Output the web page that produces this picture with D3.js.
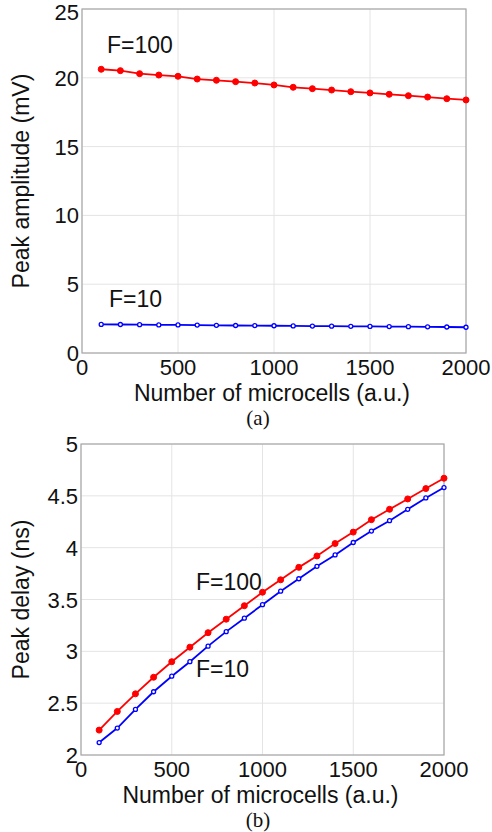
<!DOCTYPE html>
<meta charset="utf-8">
<script src="https://d3js.org/d3.v7.min.js"></script>
<style>
  body { margin: 0; background: #fff; }
  text { font-family: "Liberation Sans", Arial, sans-serif; fill: #111; }
  .cap { font-family: "Liberation Serif", "Times New Roman", serif; }
</style>
<body>
<div id="my_dataviz"></div>
<script>
// data
var microcells = [100, 200, 300, 400, 500, 600, 700, 800, 900, 1000,
                  1100, 1200, 1300, 1400, 1500, 1600, 1700, 1800, 1900, 2000];

// (a) peak amplitude (mV)
var ampF100 = [20.62, 20.52, 20.30, 20.20, 20.11, 19.91, 19.82, 19.72, 19.62, 19.48,
               19.31, 19.21, 19.11, 18.99, 18.90, 18.80, 18.70, 18.60, 18.48, 18.39];
var ampF10  = [2.08, 2.07, 2.06, 2.04, 2.04, 2.03, 2.01, 2.00, 1.99, 1.98,
               1.97, 1.96, 1.95, 1.94, 1.93, 1.92, 1.91, 1.90, 1.89, 1.87];

// (b) peak delay (ns)
var delayF100 = [2.24, 2.42, 2.59, 2.75, 2.90, 3.04, 3.18, 3.31, 3.44, 3.57,
                 3.69, 3.81, 3.92, 4.04, 4.15, 4.27, 4.37, 4.47, 4.57, 4.67];
var delayF10  = [2.12, 2.26, 2.44, 2.61, 2.76, 2.90, 3.05, 3.19, 3.32, 3.45,
                 3.58, 3.70, 3.82, 3.93, 4.05, 4.16, 4.26, 4.37, 4.48, 4.58];

var xTicks = [0, 500, 1000, 1500, 2000];
var ampTicks = [0, 5, 10, 15, 20, 25];
var delayTicks = [2, 2.5, 3, 3.5, 4, 4.5, 5];

var W = 492, H = 832;
var svg = d3.select("#my_dataviz").append("svg")
  .attr("width", W).attr("height", H);

function panel(opt) {
  var x = d3.scaleLinear().domain([0, 2000]).range([opt.left, opt.right]);
  var y = d3.scaleLinear().domain(opt.yDomain).range([opt.bottom, opt.top]);
  var g = svg.append("g");

  // grid
  g.selectAll(".gx").data(xTicks).enter().append("line")
    .attr("x1", d => x(d)).attr("x2", d => x(d))
    .attr("y1", opt.top).attr("y2", opt.bottom)
    .attr("stroke", "#e4e4e4").attr("stroke-width", 1);
  g.selectAll(".gy").data(opt.yTicks).enter().append("line")
    .attr("x1", opt.left).attr("x2", opt.right)
    .attr("y1", d => y(d)).attr("y2", d => y(d))
    .attr("stroke", "#e4e4e4").attr("stroke-width", 1);

  // box
  g.append("rect")
    .attr("x", opt.left).attr("y", opt.top)
    .attr("width", opt.right - opt.left).attr("height", opt.bottom - opt.top)
    .attr("fill", "none").attr("stroke", "#a8a8a8").attr("stroke-width", 1.2);

  // tick labels
  g.selectAll(".tx").data(xTicks).enter().append("text")
    .attr("x", d => x(d)).attr("y", opt.bottom + 22)
    .attr("text-anchor", "middle").attr("font-size", 22)
    .text(d => d);
  g.selectAll(".ty").data(opt.yTicks).enter().append("text")
    .attr("x", opt.left - 3).attr("y", d => Math.max(y(d) + 8, 20))
    .attr("text-anchor", "end").attr("font-size", 22)
    .text(d => d);

  // axis titles
  g.append("text")
    .attr("x", (opt.left + opt.right) / 2 - 2).attr("y", opt.bottom + 48)
    .attr("text-anchor", "middle").attr("font-size", 23)
    .text("Number of microcells (a.u.)");
  g.append("text")
    .attr("transform", "translate(29," + ((opt.top + opt.bottom) / 2) + ") rotate(-90)")
    .attr("text-anchor", "middle").attr("font-size", 23)
    .text(opt.yLabel);
  g.append("text").attr("class", "cap")
    .attr("x", 258).attr("y", opt.bottom + 72)
    .attr("text-anchor", "middle").attr("font-size", 21)
    .text(opt.caption);

  // series
  var line = d3.line().x((d, i) => x(microcells[i])).y(d => y(d));
  opt.series.forEach(function(s) {
    g.append("path").datum(s.values)
      .attr("fill", "none").attr("stroke", s.color).attr("stroke-width", 1.8)
      .attr("d", line);
    g.selectAll(null).data(s.values).enter().append("circle")
      .attr("cx", (d, i) => x(microcells[i])).attr("cy", d => y(d))
      .attr("r", s.filled ? 3 : 2)
      .attr("fill", s.filled ? s.color : "#fff")
      .attr("stroke", s.color).attr("stroke-width", s.filled ? 1 : 1.3);
    g.append("text")
      .attr("x", s.labelX).attr("y", s.labelY)
      .attr("font-size", 23)
      .text(s.name);
  });
}

panel({
  left: 82, right: 466, top: 9, bottom: 353,
  yDomain: [0, 25], yTicks: ampTicks,
  yLabel: "Peak amplitude (mV)", caption: "(a)",
  series: [
    {name: "F=100", values: ampF100, color: "#ff0000", filled: true, labelX: 107, labelY: 53},
    {name: "F=10", values: ampF10, color: "#0000ff", filled: false, labelX: 109, labelY: 307}
  ]
});

panel({
  left: 81, right: 444, top: 444, bottom: 755,
  yDomain: [2, 5], yTicks: delayTicks,
  yLabel: "Peak delay (ns)", caption: "(b)",
  series: [
    {name: "F=100", values: delayF100, color: "#ff0000", filled: true, labelX: 196, labelY: 590},
    {name: "F=10", values: delayF10, color: "#0000ff", filled: false, labelX: 196, labelY: 677}
  ]
});
</script>
</body>
